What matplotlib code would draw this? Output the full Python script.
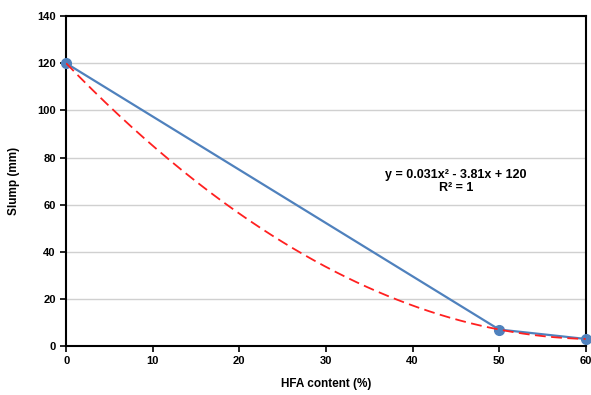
import numpy as np
import matplotlib.pyplot as plt

# data
hfa = [0, 50, 60]
slump = [120, 7, 3]
xticks = [0, 10, 20, 30, 40, 50, 60]
yticks = [0, 20, 40, 60, 80, 100, 120, 140]

# quadratic trendline through the points (Excel style)
coef = np.polyfit(hfa, slump, 2)
xs = np.linspace(0, 60, 200)
ys = np.polyval(coef, xs)

plt.rcParams['font.family'] = ['Liberation Sans', 'DejaVu Sans']

fig = plt.figure(figsize=(5.91, 3.95), dpi=100)
ax = fig.add_axes([0.112, 0.124, 0.879, 0.835])

ax.plot(hfa, slump, color='#4f81bd', lw=1.6, marker='o', ms=7, zorder=3, clip_on=False)
ax.plot(xs, ys, color='#ff2020', lw=1.3, ls=(0, (6, 3)), zorder=4)

ax.set_xlim(0, 60)
ax.set_ylim(0, 140)
ax.set_xticks(xticks)
ax.set_yticks(yticks)
ax.grid(axis='y', color='#d0d0d0', lw=1)
ax.set_axisbelow(True)
for s in ax.spines.values():
    s.set_linewidth(1.5)
    s.set_color('black')
ax.tick_params(direction='out', length=4, width=1.2, labelsize=8)
for lab in ax.get_xticklabels() + ax.get_yticklabels():
    lab.set_fontweight('bold')

ax.set_xlabel('HFA content (%)', fontsize=8.5, fontweight='bold', labelpad=8)
ax.set_ylabel('Slump (mm)', fontsize=8.5, fontweight='bold', labelpad=12)

ax.text(45, 72.8, 'y = 0.031x² - 3.81x + 120', ha='center', va='center',
        fontsize=9, fontweight='bold')
ax.text(45, 67.0, 'R² = 1', ha='center', va='center', fontsize=9, fontweight='bold')

fig.savefig('out.png', dpi=100)
